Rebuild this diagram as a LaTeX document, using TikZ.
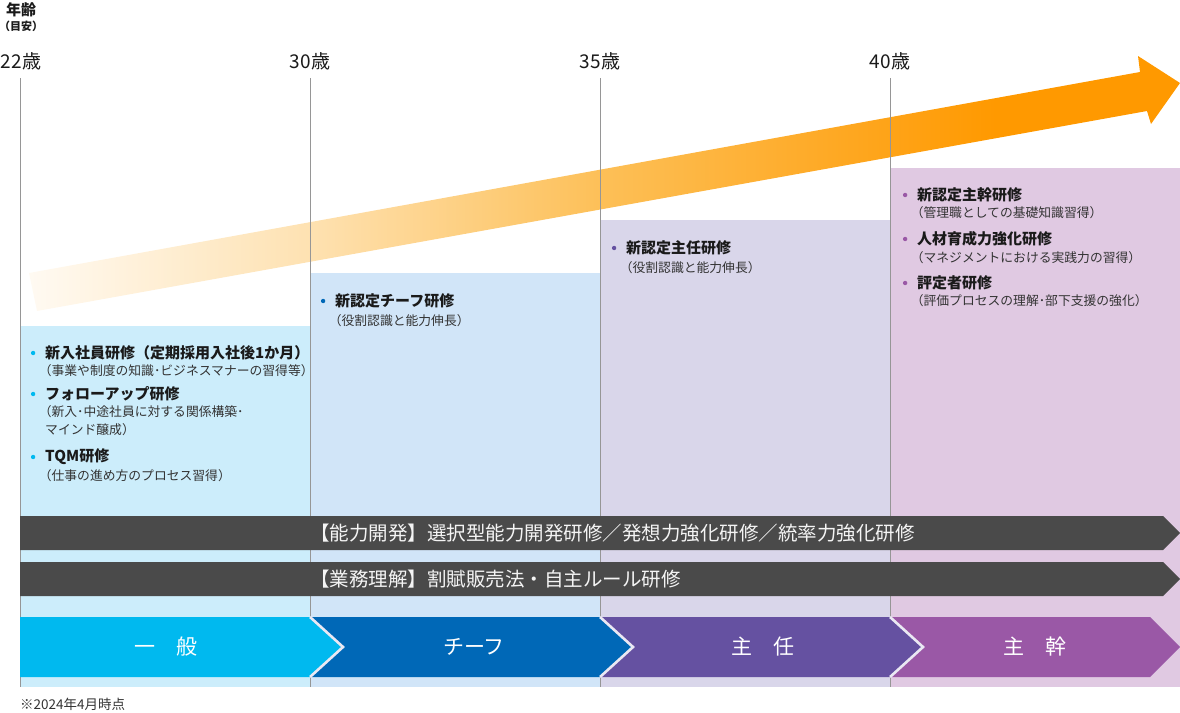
\documentclass[tikz,border=0pt]{standalone}
\usepackage{fontspec}
\setmainfont{Noto Sans CJK JP}
\usepackage{tikz}
\usetikzlibrary{positioning,calc}
\definecolor{ink}{RGB}{26,26,26}
\definecolor{subink}{RGB}{51,51,51}
\definecolor{rulegray}{RGB}{150,150,150}
\definecolor{bgone}{RGB}{204,237,251}
\definecolor{bgtwo}{RGB}{209,229,248}
\definecolor{bgthree}{RGB}{217,214,234}
\definecolor{bgfour}{RGB}{224,201,226}
\definecolor{stone}{RGB}{0,185,239}
\definecolor{sttwo}{RGB}{0,104,183}
\definecolor{stthree}{RGB}{101,81,161}
\definecolor{stfour}{RGB}{154,88,166}
\definecolor{bandgray}{RGB}{74,74,74}
\definecolor{bandink}{RGB}{244,244,244}
\pgfdeclarehorizontalshading{growth}{100bp}{rgb(0bp)=(1,0.98,0.95); rgb(25bp)=(1,0.98,0.95);
  rgb(37bp)=(0.996,0.886,0.70); rgb(50bp)=(0.992,0.75,0.34); rgb(67bp)=(1,0.6,0); rgb(100bp)=(1,0.6,0)}
\tikzset{
  agehead/.style  = {inner sep=0pt, text=ink, font=\bfseries\fontsize{15}{15}\selectfont},
  agenote/.style  = {inner sep=0pt, text=ink, font=\bfseries\fontsize{11}{11}\selectfont},
  agelabel/.style = {inner sep=0pt, text=ink, font=\fontsize{19}{19}\selectfont},
  tick/.style     = {draw=rulegray, line width=0.9pt},
  item/.style     = {anchor=west, inner sep=0pt, text=ink, font=\bfseries\fontsize{15}{15}\selectfont},
  note/.style     = {anchor=west, inner sep=0pt, text=subink, font=\fontsize{12.8}{12.8}\selectfont},
  bulletdot/.style = {circle, fill=#1, inner sep=0pt, minimum size=4.4pt},
  bandbar/.style  = {fill=bandgray},
  bandlabel/.style = {anchor=west, inner sep=0pt, text=bandink, font=\fontsize{19.5}{19.5}\selectfont},
  stage/.style    = {fill=#1},
  seam/.style     = {draw=white!45!bgthree, line width=2.6pt, line join=miter},
  stagelabel/.style = {inner sep=0pt, text=white, font=\fontsize{21}{21}\selectfont},
}

\begin{document}
\begin{tikzpicture}[x=1pt, y=-1pt]
\useasboundingbox (0,0) rectangle (1180,712);
% age scale
\node[agehead] (age) at (21,10) {年齢};
\node[agenote] (hint) at (21,26) {（目安）};
\node[agelabel] (a22) at (21,61) {22歳};
\node[agelabel] (a30) at (310,61) {30歳};
\node[agelabel] (a35) at (600,61) {35歳};
\node[agelabel] (a40) at (890,61) {40歳};

% stage columns
\fill[bgone]   (20,326)  rectangle (310,687);
\fill[bgtwo]   (310,273) rectangle (600,687);
\fill[bgthree] (600,220) rectangle (890,687);
\fill[bgfour]  (890,168) rectangle (1180,687);

% growth arrow
\shade[shading=growth] (29,273) -- (1140,72) -- (1138,56) -- (1180,83)
  -- (1151,124) -- (1147,111) -- (37,311) -- cycle;

% age rules
\draw[tick] (20,78) -- (20,687);
\draw[tick] (310,78) -- (310,687);
\draw[tick] (600,78) -- (600,687);
\draw[tick] (890,78) -- (890,687);

% general staff
\node[item] (c1a) at (45,353) {新入社員研修（定期採用入社後1か月）};
\node[bulletdot=stone, left=9.5pt of c1a] (d1a) {};
\node[note] (c1b) at (38.6,371) {（事業や制度の知識･ビジネスマナーの習得等）};
\node[item] (c1c) at (45,394) {フォローアップ研修};
\node[bulletdot=stone, left=9.5pt of c1c] (d1c) {};
\node[note] (c1d) at (38.6,412) {（新入･中途社員に対する関係構築･};
\node[note] (c1e) at (45,430) {マインド醸成）};
\node[item] (c1f) at (45,457) {TQM研修};
\node[bulletdot=stone, left=9.5pt of c1f] (d1f) {};
\node[note] (c1g) at (38.6,476) {（仕事の進め方のプロセス習得）};

% chief
\node[item] (c2a) at (335,301) {新認定チーフ研修};
\node[bulletdot=sttwo, left=9.5pt of c2a] (d2a) {};
\node[note] (c2b) at (328.6,321) {（役割認識と能力伸長）};

% senior
\node[item] (c3a) at (626,248) {新認定主任研修};
\node[bulletdot=stthree, left=9.5pt of c3a] (d3a) {};
\node[note] (c3b) at (619.6,268) {（役割認識と能力伸長）};

% manager
\node[item] (c4a) at (917,195) {新認定主幹研修};
\node[bulletdot=stfour, left=9.5pt of c4a] (d4a) {};
\node[note] (c4b) at (910.6,213) {（管理職としての基礎知識習得）};
\node[item] (c4c) at (917,239) {人材育成力強化研修};
\node[bulletdot=stfour, left=9.5pt of c4c] (d4c) {};
\node[note] (c4d) at (910.6,258) {（マネジメントにおける実践力の習得）};
\node[item] (c4e) at (917,283) {評定者研修};
\node[bulletdot=stfour, left=9.5pt of c4e] (d4e) {};
\node[note] (c4f) at (910.6,301) {（評価プロセスの理解･部下支援の強化）};

% common programmes
\fill[bandbar] (20,516) -- (1163,516) -- (1180,533) -- (1163,550) -- (20,550) -- cycle;
\node[bandlabel] (dev) at (310,533) {【能力開発】選択型能力開発研修／発想力強化研修／統率力強化研修};
\fill[bandbar] (20,562) -- (1163,562) -- (1180,579) -- (1163,596) -- (20,596) -- cycle;
\node[bandlabel] (biz) at (310,579) {【業務理解】割賦販売法・自主ルール研修};

% stage chevrons
\fill[stage=stone]   (20,617) -- (310,617) -- (343,647) -- (310,677) -- (20,677) -- cycle;
\fill[stage=sttwo]   (310,617) -- (600,617) -- (633,647) -- (600,677) -- (310,677) -- (343,647) -- cycle;
\fill[stage=stthree] (600,617) -- (890,617) -- (923,647) -- (890,677) -- (600,677) -- (633,647) -- cycle;
\fill[stage=stfour]  (890,617) -- (1150,617) -- (1180,647) -- (1150,677) -- (890,677) -- (923,647) -- cycle;
\draw[seam] (310,617) -- (343,647) -- (310,677);
\draw[seam] (600,617) -- (633,647) -- (600,677);
\draw[seam] (890,617) -- (923,647) -- (890,677);
\node[stagelabel] (general) at (166,647) {一　般};
\node[stagelabel] (chief)   at (474,647) {チーフ};
\node[stagelabel] (senior)  at (763,647) {主　任};
\node[stagelabel] (manager) at (1035,647) {主　幹};

\node[note, text=subink, font=\fontsize{13.5}{13.5}\selectfont] (foot) at (20,704) {※2024年4月時点};
\end{tikzpicture}
\end{document}
